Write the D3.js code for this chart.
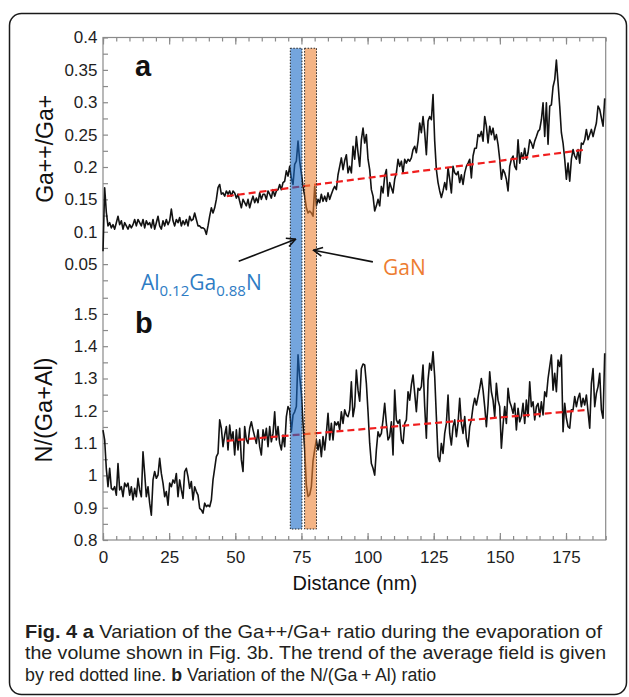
<!DOCTYPE html>
<html>
<head>
<meta charset="utf-8">
<script src="https://cdn.jsdelivr.net/npm/d3@7"></script>
<style>
  body { margin: 0; background: #fff; }
  svg { display: block; }
</style>
</head>
<body>
<svg id="chart"></svg>
<script>
// sample spacing along the profile (nm)
const STEP = 0.63;

// Ga++/Ga+ ratio, panel a
const gaRatio = [
  0.07, 0.168, 0.13, 0.109, 0.114, 0.106, 0.111, 0.104, 0.114, 0.124,
  0.111, 0.117, 0.104, 0.114, 0.109, 0.104, 0.111, 0.106, 0.111, 0.119,
  0.109, 0.119, 0.114, 0.109, 0.119, 0.106, 0.117, 0.111, 0.114, 0.106,
  0.119, 0.104, 0.114, 0.124, 0.109, 0.104, 0.117, 0.109, 0.119, 0.111,
  0.117, 0.135, 0.117, 0.109, 0.119, 0.114, 0.122, 0.109, 0.117, 0.111,
  0.119, 0.109, 0.124, 0.117, 0.119, 0.129, 0.119, 0.109, 0.109, 0.106,
  0.106, 0.104, 0.096, 0.109, 0.124, 0.137, 0.129, 0.137, 0.150, 0.168,
  0.173, 0.158, 0.160, 0.155, 0.163, 0.158, 0.163, 0.155, 0.163, 0.160,
  0.152, 0.158, 0.147, 0.137, 0.150, 0.145, 0.140, 0.150, 0.137, 0.147,
  0.155, 0.145, 0.152, 0.145, 0.160, 0.150, 0.158, 0.158, 0.150, 0.163,
  0.158, 0.152, 0.165, 0.155, 0.163, 0.165, 0.173, 0.165, 0.176, 0.178,
  0.194, 0.186, 0.201, 0.183, 0.173, 0.204, 0.209, 0.240, 0.209, 0.190,
  0.170, 0.155, 0.137, 0.129, 0.132, 0.129, 0.124, 0.170, 0.140, 0.150,
  0.145, 0.158, 0.147, 0.155, 0.147, 0.160, 0.150, 0.158, 0.165, 0.170,
  0.165, 0.188, 0.201, 0.214, 0.196, 0.210, 0.219,
  0.191, 0.201, 0.191, 0.232, 0.212, 0.247, 0.222, 0.201, 0.242, 0.260,
  0.237, 0.250, 0.212, 0.196, 0.165, 0.155, 0.132, 0.140, 0.150, 0.140,
  0.170, 0.160, 0.186, 0.196, 0.155, 0.176, 0.168, 0.160, 0.181, 0.191,
  0.212, 0.201, 0.209, 0.191, 0.212, 0.206, 0.212, 0.209, 0.214, 0.227,
  0.232, 0.222, 0.240, 0.268, 0.253, 0.278, 0.253, 0.219, 0.271, 0.278,
  0.273, 0.312, 0.240, 0.196, 0.176, 0.163, 0.153, 0.163, 0.176, 0.165,
  0.199, 0.181, 0.160, 0.201, 0.191, 0.188, 0.193, 0.176, 0.188, 0.173,
  0.191, 0.201, 0.206, 0.212, 0.183, 0.217, 0.229, 0.229, 0.250, 0.247,
  0.255, 0.240, 0.278, 0.263, 0.237, 0.263, 0.250, 0.260, 0.242, 0.250,
  0.235, 0.212, 0.181, 0.196, 0.191, 0.181, 0.163, 0.201, 0.212, 0.217,
  0.201, 0.196, 0.242, 0.206, 0.222, 0.212, 0.229, 0.212, 0.222, 0.242,
  0.237, 0.229, 0.240, 0.247, 0.255, 0.258, 0.273, 0.299, 0.247, 0.299,
  0.235, 0.294, 0.296, 0.324, 0.335, 0.365, 0.330, 0.294, 0.253, 0.237,
  0.212, 0.181, 0.206, 0.178, 0.212, 0.227, 0.217, 0.212, 0.227, 0.206,
  0.237, 0.235, 0.242, 0.258, 0.242, 0.250, 0.258, 0.247, 0.258, 0.268,
  0.294, 0.289, 0.276, 0.263, 0.306
];

// N/(Ga+Al) ratio, panel b
const nRatio = [
  1.14, 1.11, 1.02, 0.965, 1.022, 0.96, 0.955, 0.965, 0.939, 1.037,
  0.955, 0.965, 0.934, 0.976, 0.965, 0.976, 0.939, 0.965, 0.924, 0.96,
  0.934, 0.991, 0.955, 0.934, 1.073, 1.006, 0.934, 0.965, 0.914, 0.877,
  0.986, 1.012, 0.991, 1.001, 1.053, 1.006, 0.976, 0.934, 0.95, 0.908,
  0.976, 0.965, 0.986, 0.976, 1.006, 0.934, 0.986, 0.955, 0.929, 1.012,
  1.022, 0.996, 0.96, 0.981, 0.924, 0.965, 0.95, 0.939, 0.898, 0.893,
  0.883, 0.914, 0.903, 0.908, 0.903, 0.924, 0.986, 1.022, 1.058, 1.068,
  1.172, 1.146, 1.089, 1.125, 1.151, 1.079, 1.156, 1.11, 1.135, 1.063,
  1.141, 1.079, 1.146, 1.048, 1.012, 1.151, 1.11, 1.099, 1.146, 1.166,
  1.141, 1.12, 1.099, 1.141, 1.089, 1.063, 1.141, 1.11, 1.146, 1.089,
  1.151, 1.104, 1.13, 1.197, 1.11, 1.151, 1.099, 1.079, 1.125, 1.089,
  1.182, 1.213, 1.203, 1.135, 1.187, 1.197, 1.213, 1.373, 1.306, 1.254,
  1.161, 1.079, 0.97, 0.935, 0.94, 0.965, 1.045, 1.08, 1.11, 1.079,
  1.11, 1.058, 1.12, 1.079, 1.13, 1.192, 1.11, 1.161, 1.11, 1.166,
  1.156, 1.166, 1.141, 1.197, 1.161, 1.203, 1.187,
  1.182, 1.203, 1.29, 1.182, 1.213, 1.326, 1.264, 1.23, 1.331, 1.345,
  1.342, 1.285, 1.197, 1.099, 1.037, 1.022, 1.001, 1.079, 1.135, 1.12,
  1.13, 1.172, 1.223, 1.161, 1.11, 1.12, 1.166, 1.063, 1.264, 1.172,
  1.161, 1.172, 1.11, 1.099, 1.161, 1.172, 1.259, 1.233, 1.28, 1.311,
  1.254, 1.197, 1.27, 1.264, 1.275, 1.342, 1.213, 1.115, 1.295, 1.347,
  1.326, 1.383, 1.306, 1.182, 1.058, 1.043, 1.099, 1.068, 1.13, 1.161,
  1.249, 1.13, 1.094, 1.151, 1.172, 1.12, 1.161, 1.239, 1.161, 1.13,
  1.182, 1.115, 1.089, 1.151, 1.172, 1.213, 1.239, 1.218, 1.244, 1.27,
  1.3, 1.264, 1.213, 1.151, 1.218, 1.321, 1.259, 1.233, 1.182, 1.285,
  1.233, 1.213, 1.084, 1.156, 1.213, 1.161, 1.27, 1.228, 1.213, 1.192,
  1.223, 1.141, 1.208, 1.166, 1.182, 1.223, 1.161, 1.233, 1.182, 1.29,
  1.213, 1.228, 1.172, 1.213, 1.223, 1.182, 1.228, 1.187, 1.259, 1.244,
  1.3, 1.337, 1.373, 1.264, 1.316, 1.259, 1.357, 1.337, 1.373, 1.135,
  1.223, 1.177, 1.151, 1.146, 1.203, 1.203, 1.244, 1.213, 1.239, 1.254,
  1.213, 1.239, 1.218, 1.249, 1.197, 1.146, 1.285, 1.331, 1.213, 1.254,
  1.275, 1.316, 1.203, 1.177, 1.378
];

// red dashed average-field trends [nm, value]
const trendA = [[46.8, 0.155], [182.8, 0.227]];
const trendB = [[46.8, 1.107], [182.8, 1.2025]];

// shaded layers (nm); drawn at 60% so the curve stays visible underneath
const bands = [
  {name: 'AlGaN', x0: 70.8, x1: 75.2, fill: '#1769c6'},
  {name: 'GaN', x0: 76.2, x1: 80.7, fill: '#ed8234'}
];

const xMajor = [0, 25, 50, 75, 100, 125, 150, 175];
const yLabelsA = [0.05, 0.1, 0.15, 0.2, 0.25, 0.3, 0.35, 0.4];
const yLabelsB = [0.8, 0.9, 1, 1.1, 1.2, 1.3, 1.4, 1.5];

const W = 629, H = 697;
const AXIS = '#8a8a8a';
const SANS = "'Liberation Sans', Arial, sans-serif";

const svg = d3.select('#chart').attr('width', W).attr('height', H)
  .style('font-family', SANS);

svg.append('rect')
  .attr('x', 9.5).attr('y', 13.5)
  .attr('width', 617).attr('height', 681)
  .attr('rx', 12)
  .attr('fill', '#fff')
  .attr('stroke', '#1a1a1a')
  .attr('stroke-width', 1.5);

const x = d3.scaleLinear().domain([0, 190]).range([103, 605.7]);
const yA = d3.scaleLinear().domain([0, 0.4]).range([296.5, 37.5]);
const yB = d3.scaleLinear().domain([0.8, 1.6]).range([540, 281.6]);

const fmt = d => String(+d.toFixed(2));

// plot frame
svg.append('rect')
  .attr('x', x(0)).attr('y', yA(0.4))
  .attr('width', x(190) - x(0)).attr('height', yB(0.8) - yA(0.4))
  .attr('fill', 'none')
  .attr('stroke', AXIS)
  .attr('stroke-width', 1.2);

function styleAxis(g) {
  g.select('.domain').remove();
  g.selectAll('.tick line').attr('stroke', AXIS).attr('stroke-width', 1.2);
  g.selectAll('.tick text').attr('fill', '#1e1e1e').style('font-size', '17px')
    .style('font-family', SANS);
}

const minorX = d3.range(0, 191, 5);

// bottom axis
svg.append('g')
  .attr('transform', `translate(0,${yB(0.8)})`)
  .call(d3.axisBottom(x).tickValues(minorX).tickSize(-4).tickFormat(''))
  .call(styleAxis);
svg.append('g')
  .attr('transform', `translate(0,${yB(0.8)})`)
  .call(d3.axisBottom(x).tickValues(xMajor).tickSize(-7).tickPadding(10.5).tickFormat(d3.format('d')))
  .call(styleAxis);

// top edge ticks
svg.append('g')
  .attr('transform', `translate(0,${yA(0.4)})`)
  .call(d3.axisTop(x).tickValues(minorX).tickSize(-4).tickFormat(''))
  .call(styleAxis);
svg.append('g')
  .attr('transform', `translate(0,${yA(0.4)})`)
  .call(d3.axisTop(x).tickValues(xMajor).tickSize(-7).tickFormat(''))
  .call(styleAxis);

// left axes
svg.append('g')
  .attr('transform', `translate(${x(0)},0)`)
  .call(d3.axisLeft(yA).tickValues(d3.range(0.025, 0.4, 0.05)).tickSize(-5).tickFormat(''))
  .call(styleAxis);
svg.append('g')
  .attr('transform', `translate(${x(0)},0)`)
  .call(d3.axisLeft(yA).tickValues(yLabelsA).tickSize(-5).tickPadding(5.5).tickFormat(fmt))
  .call(styleAxis);
svg.append('g')
  .attr('transform', `translate(${x(0)},0)`)
  .call(d3.axisLeft(yB).tickValues(d3.range(0.85, 1.56, 0.1)).tickSize(-5).tickFormat(''))
  .call(styleAxis);
svg.append('g')
  .attr('transform', `translate(${x(0)},0)`)
  .call(d3.axisLeft(yB).tickValues(yLabelsB).tickSize(-5).tickPadding(5.5).tickFormat(fmt))
  .call(styleAxis);

// data lines
const lineA = d3.line().x((d, i) => x(i * STEP)).y(d => yA(d));
const lineB = d3.line().x((d, i) => x(i * STEP)).y(d => yB(d));

svg.append('path').datum(gaRatio)
  .attr('d', lineA)
  .attr('fill', 'none').attr('stroke', '#121212')
  .attr('stroke-width', 1.6).attr('stroke-linejoin', 'round');
svg.append('path').datum(nRatio)
  .attr('d', lineB)
  .attr('fill', 'none').attr('stroke', '#121212')
  .attr('stroke-width', 1.6).attr('stroke-linejoin', 'round');

// trend lines
[[trendA, yA], [trendB, yB]].forEach(([pts, y]) => {
  svg.append('path').datum(pts)
    .attr('d', d3.line().x(d => x(d[0])).y(d => y(d[1])))
    .attr('fill', 'none').attr('stroke', '#f01e1e')
    .attr('stroke-width', 2.2).attr('stroke-dasharray', '7,4');
});

// layer bands drawn over the data
svg.selectAll('rect.band').data(bands).join('rect')
  .attr('class', 'band')
  .attr('x', d => x(d.x0))
  .attr('width', d => x(d.x1) - x(d.x0))
  .attr('y', yA(0.3834))
  .attr('height', yB(0.834) - yA(0.3834))
  .attr('fill', d => d.fill)
  .attr('fill-opacity', 0.6)
  .attr('stroke', '#222')
  .attr('stroke-width', 1)
  .attr('stroke-dasharray', '1.5,1.5');

// panel letters
svg.append('text').attr('x', 135).attr('y', 76)
  .style('font-size', '29px').style('font-weight', 'bold').attr('fill', '#111').text('a');
svg.append('text').attr('x', 135).attr('y', 333)
  .style('font-size', '29px').style('font-weight', 'bold').attr('fill', '#111').text('b');

// axis titles
svg.append('text')
  .attr('transform', `translate(53,${(yA(0.4) + yA(0.05)) / 2 - 2}) rotate(-90)`)
  .attr('text-anchor', 'middle')
  .style('font-size', '23px').attr('fill', '#111')
  .text('Ga++/Ga+');
svg.append('text')
  .attr('transform', `translate(52,${(yB(1.5) + yB(0.8)) / 2 - 17}) rotate(-90)`)
  .attr('text-anchor', 'middle')
  .style('font-size', '23.5px').attr('fill', '#111')
  .text('N/(Ga+Al)');

svg.append('text')
  .attr('x', (x(0) + x(190)) / 2 + 0.5).attr('y', 590)
  .attr('text-anchor', 'middle')
  .style('font-size', '20px').attr('fill', '#111')
  .text('Distance (nm)');

// layer labels and arrows
const LABEL = "'Open Sans', 'Noto Sans', sans-serif";
const al = svg.append('text').attr('x', 141).attr('y', 290)
  .style('font-family', LABEL).style('font-size', '21px').attr('fill', '#2e7cc4');
al.append('tspan').text('Al');
al.append('tspan').attr('dy', 6).style('font-size', '15px').text('0.12');
al.append('tspan').attr('dy', -6).text('Ga');
al.append('tspan').attr('dy', 6).style('font-size', '15px').text('0.88');
al.append('tspan').attr('dy', -6).text('N');

svg.append('text').attr('x', 383).attr('y', 275)
  .style('font-family', LABEL).style('font-size', '21px').attr('fill', '#ed7d31')
  .text('GaN');

svg.append('defs').append('marker')
  .attr('id', 'head')
  .attr('viewBox', '0 0 10 10')
  .attr('refX', 9).attr('refY', 5)
  .attr('markerWidth', 11).attr('markerHeight', 11)
  .attr('markerUnits', 'userSpaceOnUse')
  .attr('orient', 'auto')
  .append('path')
  .attr('d', 'M1,1 L9,5 L1,9')
  .attr('fill', 'none').attr('stroke', '#111').attr('stroke-width', 1.4);

const arrows = [
  [[51.3, 0.0545], [72.8, 0.0885]],
  [[102, 0.0535], [79.6, 0.0715]]
];
arrows.forEach(([a, b]) => {
  svg.append('line')
    .attr('x1', x(a[0])).attr('y1', yA(a[1]))
    .attr('x2', x(b[0])).attr('y2', yA(b[1]))
    .attr('stroke', '#111').attr('stroke-width', 1.6)
    .attr('marker-end', 'url(#head)');
});

// caption, squeezed horizontally to the figure's narrow face
const CAP = "'Liberation Sans', Arial, sans-serif";
const caption = [
  {y: 637.5, len: 577, parts: [['Fig. 4', true], [' a', true], [' Variation of the Ga++/Ga+ ratio during the evaporation of', false]]},
  {y: 659, len: 581, parts: [['the volume shown in Fig. 3b. The trend of the average field is given', false]]},
  {y: 680.5, len: 411, parts: [['by red dotted line. ', false], ['b', true], [' Variation of the N/(Ga\u2009+\u2009Al) ratio', false]]}
];
caption.forEach(line => {
  const t = svg.append('text')
    .attr('x', 0).attr('y', 0)
    .style('font-family', CAP).style('font-size', '18.8px').attr('fill', '#231f20')
    .style('white-space', 'pre');
  line.parts.forEach(([s, bold]) => {
    t.append('tspan').style('font-weight', bold ? 'bold' : 'normal').text(s);
  });
  const natural = t.node().getComputedTextLength();
  t.attr('transform', `translate(25,${line.y}) scale(${line.len / natural},1)`);
});
</script>
</body>
</html>
